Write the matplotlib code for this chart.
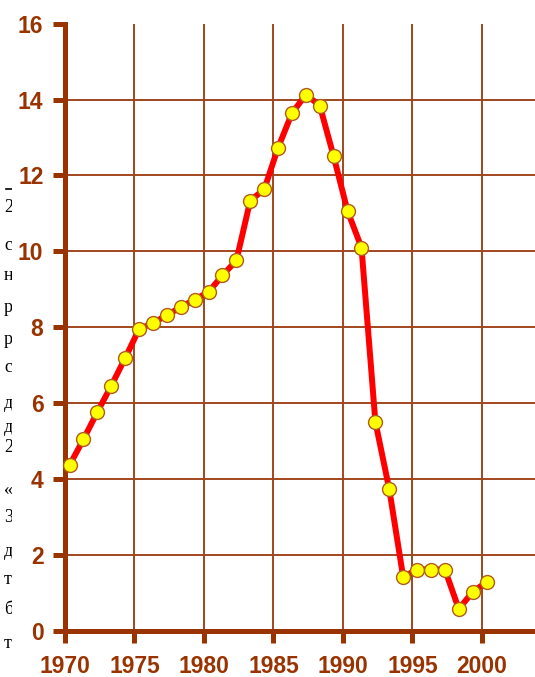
import numpy as np
import matplotlib.pyplot as plt

# data
years = list(range(1970, 2001))
values = [4.37, 5.05, 5.77, 6.46, 7.19, 7.95, 8.11, 8.32, 8.53, 8.73,
          8.93, 9.37, 9.76, 11.34, 11.63, 12.73, 13.64, 14.13, 13.84, 12.50,
          11.06, 10.10, 5.51, 3.73, 1.42, 1.62, 1.62, 1.62, 0.58, 1.03,
          1.29]
x_ticks = [1970, 1975, 1980, 1985, 1990, 1995, 2000]
y_ticks = [0, 2, 4, 6, 8, 10, 12, 14, 16]
# cut-off letters of page text at the left edge
edge_chars = ['2', 'с', 'н', 'р', 'р', 'с', 'д', 'д', '2', '«', '3', 'д', 'т', 'б', 'т']
edge_y_px = [208, 246, 275, 308, 340, 367, 403, 428, 447, 490, 517, 552, 580, 610, 644]

brown = '#993300'
W, H = 535, 677

fig = plt.figure(figsize=(W / 100, H / 100), dpi=100)
ax = fig.add_axes([65 / W, (H - 631) / H, 1 - 65 / W, (631 - 23.6) / H])

# grid drawn by hand (no line at 16)
for xt in x_ticks[1:]:
    ax.axvline(xt, color='#a0461e', lw=1.4, zorder=1)
for yt in y_ticks[1:-1]:
    ax.axhline(yt, color='#a0461e', lw=1.4, zorder=1)

xs = np.array(years) + 0.33  # points sit a bit after the year tick
ax.plot(xs, values, color='#ff0000', lw=4.3, solid_joinstyle='round',
        solid_capstyle='round', zorder=3, clip_on=False)
ax.plot(xs, values, ls='none', marker='o', ms=10, mfc='#ffff00',
        mec='#b05a20', mew=1.0, zorder=4, clip_on=False)

ax.set_xlim(1970, 1970 + 470 / 13.9)
ax.set_ylim(0, 16)
ax.set_xticks(x_ticks)
ax.set_yticks(y_ticks)

for side in ['top', 'right']:
    ax.spines[side].set_visible(False)
for side in ['left', 'bottom']:
    ax.spines[side].set_color(brown)
    ax.spines[side].set_linewidth(3.6)
    ax.spines[side].set_capstyle('projecting')

ax.tick_params(axis='both', colors=brown, length=8.5, width=3.6,
               labelsize=16.5)
ax.tick_params(axis='y', pad=7)
ax.tick_params(axis='x', pad=9)
for lab in ax.get_xticklabels() + ax.get_yticklabels():
    lab.set_fontweight('bold')
    lab.set_family('Liberation Sans')
    lab.set_color(brown)

# left page fragments, clipped so only part of each glyph shows
edge = fig.add_axes([0, 0, 12 / W, 1])
edge.set_xlim(0, 12)
edge.set_ylim(H, 0)
edge.axis('off')
for ch, yp in zip(edge_chars, edge_y_px):
    edge.text(4, yp, ch, fontsize=13, family='Liberation Serif',
              va='center', ha='left', color='black', clip_on=True)
edge.plot([6, 12], [189, 189], color='black', lw=1.2)

fig.savefig('out.png', dpi=100, facecolor='white')
